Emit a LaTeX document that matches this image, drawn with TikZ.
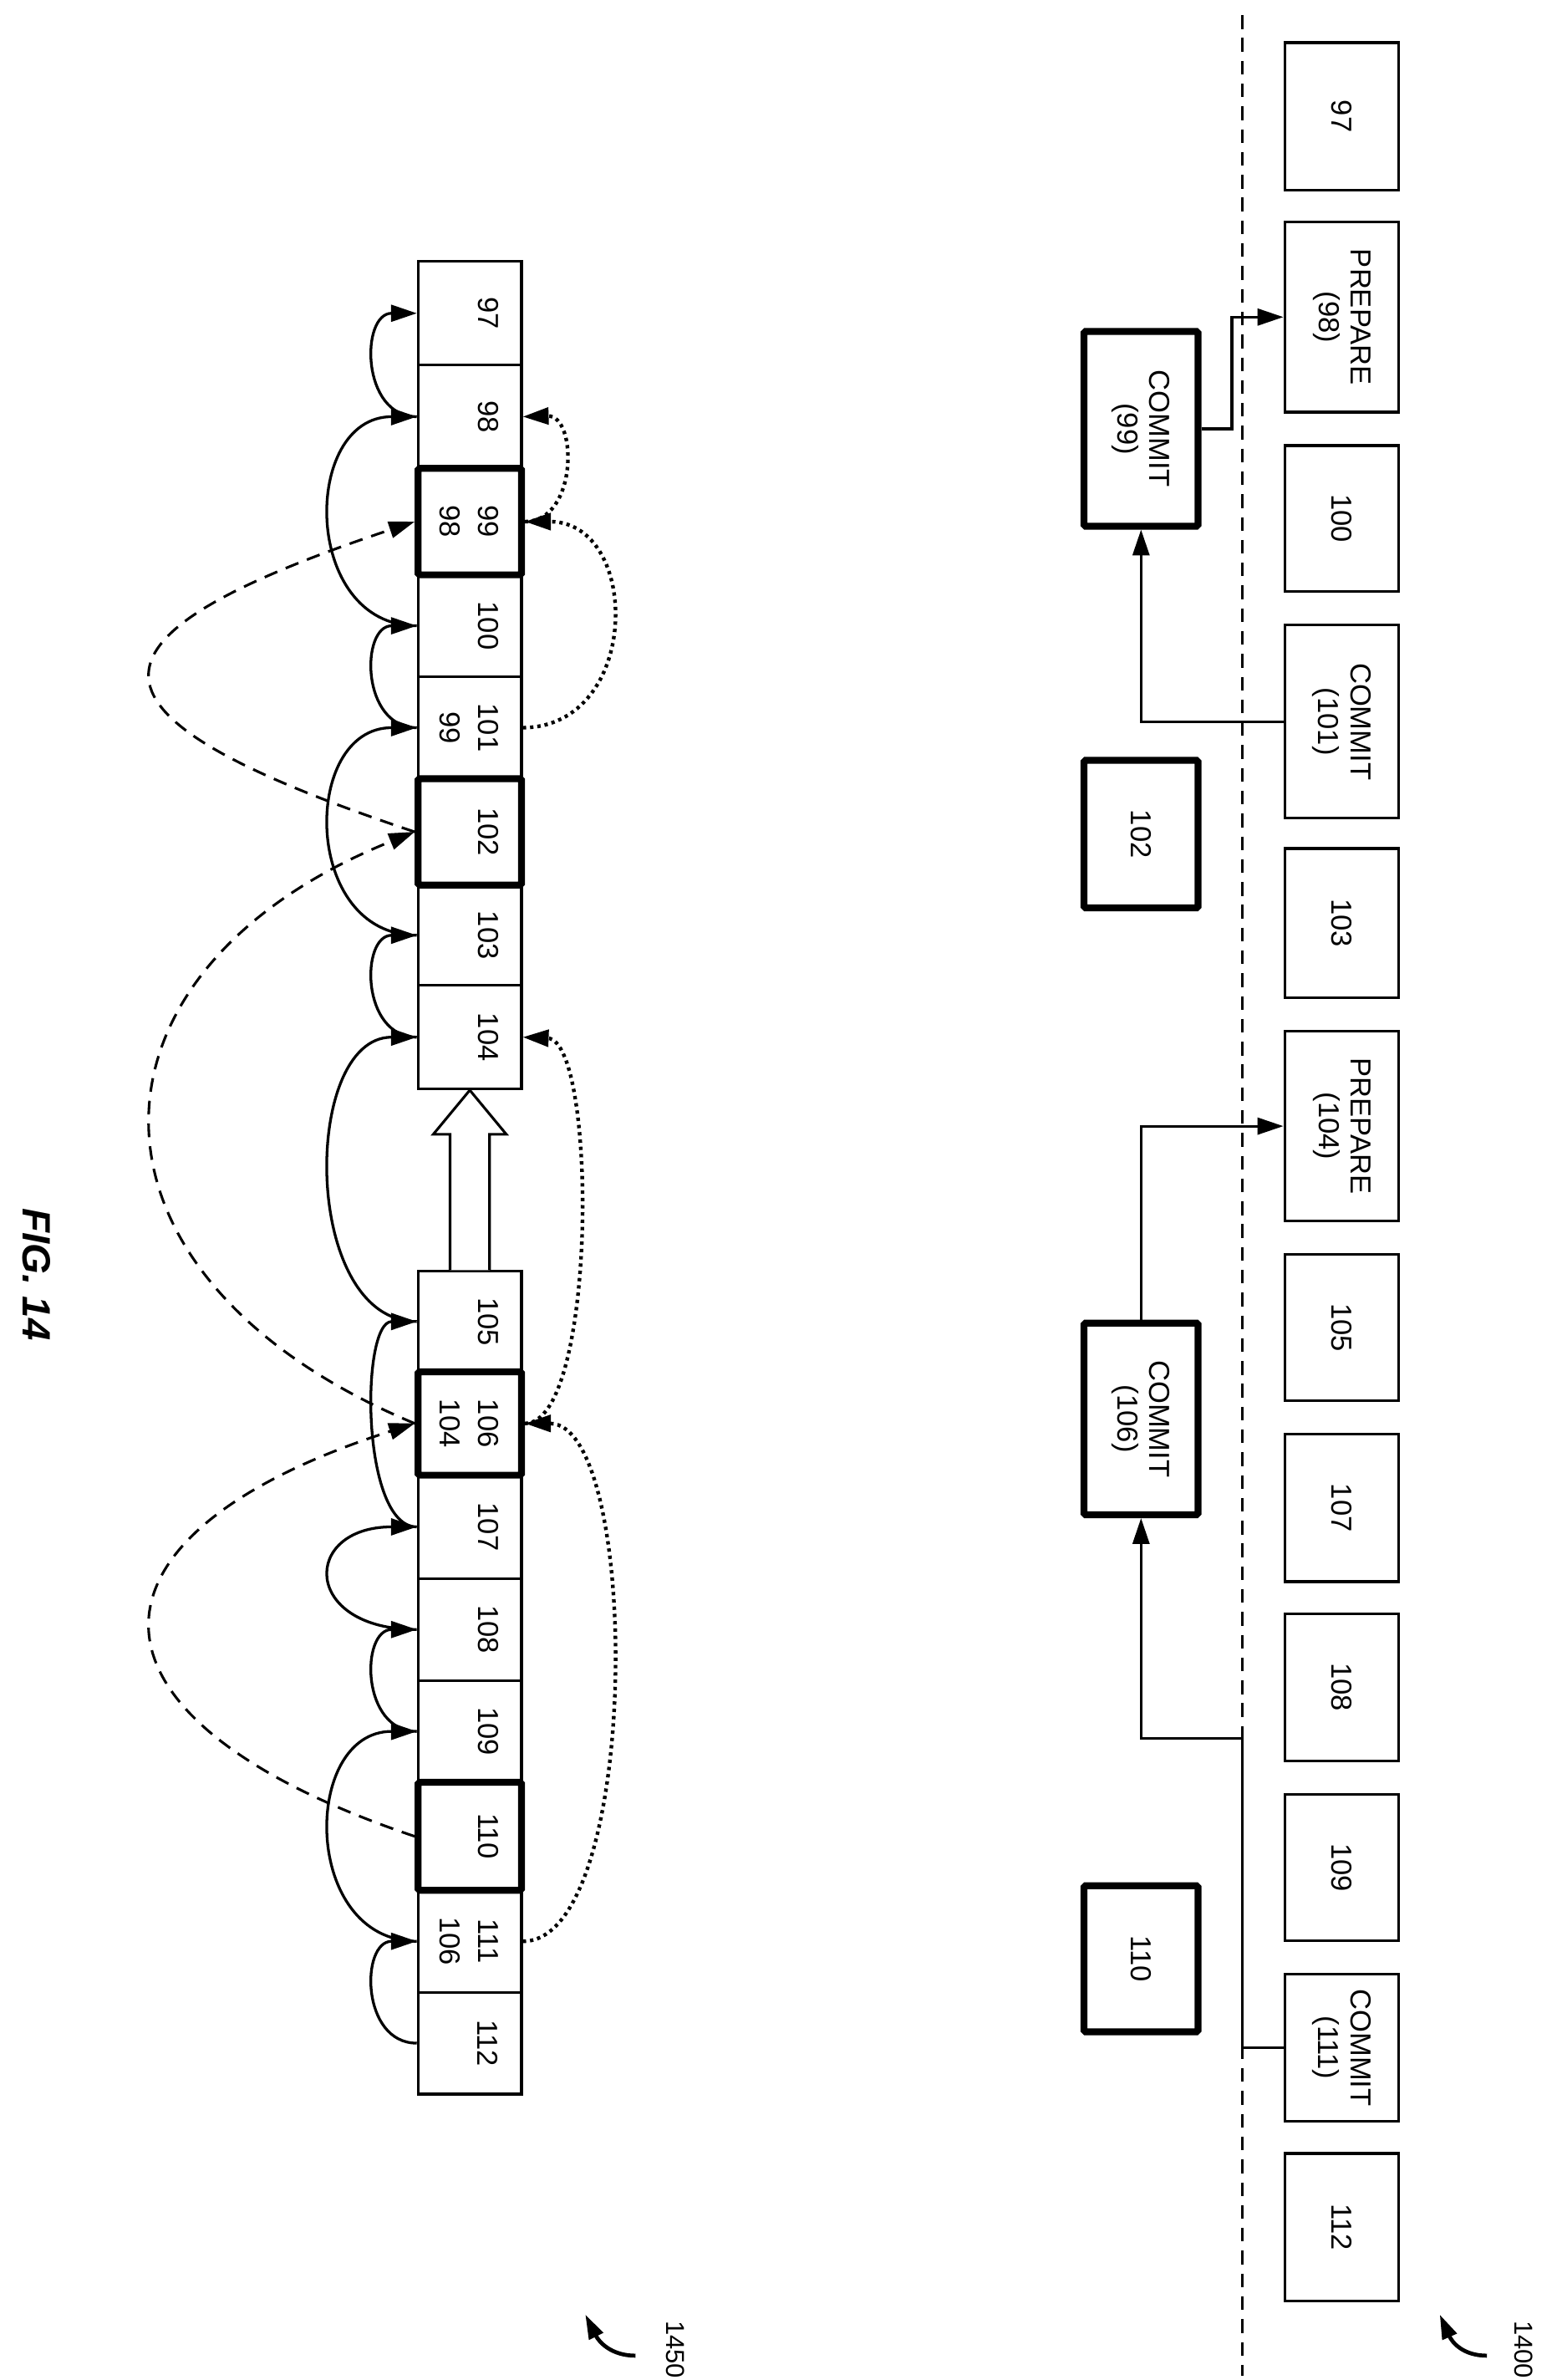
\documentclass[tikz,border=0pt]{standalone}
\usepackage{fontspec}
\setmainfont{Liberation Sans}
\usetikzlibrary{arrows.meta,calc}
\begin{document}
\begin{tikzpicture}[x=1pt,y=-1pt,
  cell/.style={draw,line width=1.7pt,minimum width=68pt,inner sep=0pt},
  thick cell/.style={draw,line width=4.5pt,minimum width=68pt,inner sep=0pt,rounded corners=1pt},
  rbox/.style={draw,line width=1.8pt,minimum width=75pt,inner sep=0pt},
  tbox/.style={draw,line width=4.5pt,minimum width=75pt,inner sep=0pt,rounded corners=1pt},
  txt/.style={rotate=-90,font=\fontsize{19}{21}\selectfont,inner sep=0pt,align=center},
  tip/.style={-{Triangle[length=17pt,width=11pt]}},
  arc/.style={tip,line width=1.8pt},
  dsh/.style={tip,line width=1.7pt,dash pattern=on 9pt off 6pt},
  dot/.style={tip,line width=2.4pt,dash pattern=on 2.2pt off 2.6pt},
  conn/.style={tip,line width=1.7pt}]
\useasboundingbox (0,0) rectangle (1024,1565);
% left column cells
\foreach \n/\t/\b in {97/172/240,98/240/308,100/378/445,101/445/512,103/582/648,104/648/716,105/836/902,107/970/1038,108/1038/1105,109/1105/1172,111/1243/1310,112/1310/1377}
  \node[cell,minimum height={(\b-\t)*1pt}] (c\n) at (309,{(\t+\b)/2}) {};
\foreach \n/\t/\b in {99/308/378,102/512/582,106/902/970,110/1172/1243}
  \node[thick cell,minimum height={(\b-\t)*1pt}] (c\n) at (309,{(\t+\b)/2}) {};
% labels
\foreach \n in {97,98,100,102,103,104,105,107,108,109,110,112}
  \node[txt] (l\n) at ($(c\n.center)+(12,0)$) {\n};
\node[txt] (l99a) at ($(c99.center)+(12,0)$) {99};
\node[txt] (l99b) at ($(c99.center)+(-13,0)$) {98};
\node[txt] (l101a) at ($(c101.center)+(12,0)$) {101};
\node[txt] (l101b) at ($(c101.center)+(-13,0)$) {99};
\node[txt] (l106a) at ($(c106.center)+(12,0)$) {106};
\node[txt] (l106b) at ($(c106.center)+(-13,0)$) {104};
\node[txt] (l111a) at ($(c111.center)+(12,0)$) {111};
\node[txt] (l111b) at ($(c111.center)+(-13,0)$) {106};
% hollow arrow
\draw[line width=1.7pt,fill=white] ($(c105.north)+(-13,0)$) -- ($(c104.south)+(-13,29)$) -- ($(c104.south)+(-24,29)$) -- (c104.south) -- ($(c104.south)+(24,29)$) -- ($(c104.south)+(13,29)$) -- ($(c105.north)+(13,0)$);
% solid arcs
\def\sm{-37}\def\bg{-76}
\draw[arc] (c98.west) .. controls +(\sm,0) and +(\sm,0) .. (c97.west);
\draw[arc] (c100.west) .. controls +(\bg,0) and +(\bg,0) .. (c98.west);
\draw[arc] (c101.west) .. controls +(\sm,0) and +(\sm,0) .. (c100.west);
\draw[arc] (c103.west) .. controls +(\bg,0) and +(\bg,0) .. (c101.west);
\draw[arc] (c104.west) .. controls +(\sm,0) and +(\sm,0) .. (c103.west);
\draw[arc] (c105.west) .. controls +(\bg,0) and +(\bg,0) .. (c104.west);
\draw[arc] (c107.west) .. controls +(\sm,0) and +(\sm,0) .. (c105.west);
\draw[arc] (c108.west) .. controls +(\bg,0) and +(\bg,0) .. (c107.west);
\draw[arc] (c109.west) .. controls +(\sm,0) and +(\sm,0) .. (c108.west);
\draw[arc] (c111.west) .. controls +(\bg,0) and +(\bg,0) .. (c109.west);
\draw[arc] (c112.west) .. controls +(\sm,0) and +(\sm,0) .. (c111.west);
% dashed arcs
\draw[dsh] (c102.west) .. controls (42,470) and (42,420) .. (c99.west);
\draw[dsh] (c106.west) .. controls (42,840) and (42,640) .. (c102.west);
\draw[dsh] (c110.west) .. controls (42,1130) and (42,1010) .. (c106.west);
% dotted arcs
\draw[dot] (c101.east) .. controls (422,478) and (422,343) .. (c99.east);
\draw[dot] (c99.east) .. controls (380,343) and (380,273) .. (c98.east);
\draw[dot] (c106.east) .. controls (393,936) and (393,684) .. (c104.east);
\draw[dot] (c111.east) .. controls (422,1277) and (422,936) .. (c106.east);
% right section
\coordinate (dtop) at (817,10); \coordinate (dbot) at (817,1562);
\draw[line width=1.7pt,dash pattern=on 9pt off 6pt] (dtop) -- (dbot);
\foreach \n/\t/\b/\s in {r97/28/125/97,p98/146/271/{PREPARE\\(98)},r100/293/389/100,r101/411/538/{COMMIT\\(101)},r103/558/656/103,p104/678/803/{PREPARE\\(104)},r105/825/921/105,r107/943/1040/107,r108/1061/1158/108,r109/1180/1276/109,r111/1298/1395/{COMMIT\\(111)},r112/1416/1513/112}
  {\node[rbox,minimum height={(\b-\t)*1pt}] (\n) at (882.5,{(\t+\b)/2}) {};
   \node[txt] (t\n) at (\n.center) {\s};}
\foreach \n/\t/\b/\s in {k99/218/346/{COMMIT\\(99)},k102/500/597/102,k106/870/996/{COMMIT\\(106)},k110/1240/1336/110}
  {\node[tbox,minimum height={(\b-\t)*1pt}] (\n) at (750.5,{(\t+\b)/2}) {};
   \node[txt] (t\n) at (\n.center) {\s};}
\draw[conn] (k99.east) -- ++(20,0) |- (p98.west);
\draw[conn] (r101.west) -| (k99.south);
\draw[conn] (k106.north) |- (p104.west);
\coordinate (j111) at (817,1143);
\draw[conn] (r111.west) -| (j111) -| (k106.south);
% figure title and reference labels
\node[rotate=-90,font=\fontsize{26}{28}\selectfont\bfseries\itshape] (fig) at (24,838) {FIG. 14};
\node[rotate=-90,font=\fontsize{17}{19}\selectfont,inner sep=0pt] (n1450) at (444,1545) {1450};
\coordinate (a1450s) at (418,1549); \coordinate (a1450e) at (385,1522);
\draw[line width=2.6pt,-{Triangle[length=16pt,width=10pt]}] (a1450s) .. controls (402,1549) and (394,1540) .. (a1450e);
\node[rotate=-90,font=\fontsize{17}{19}\selectfont,inner sep=0pt] (n1400) at (1002,1545) {1400};
\coordinate (a1400s) at (978,1549); \coordinate (a1400e) at (947,1522);
\draw[line width=2.6pt,-{Triangle[length=16pt,width=10pt]}] (a1400s) .. controls (962,1549) and (955,1540) .. (a1400e);
\end{tikzpicture}
\end{document}
